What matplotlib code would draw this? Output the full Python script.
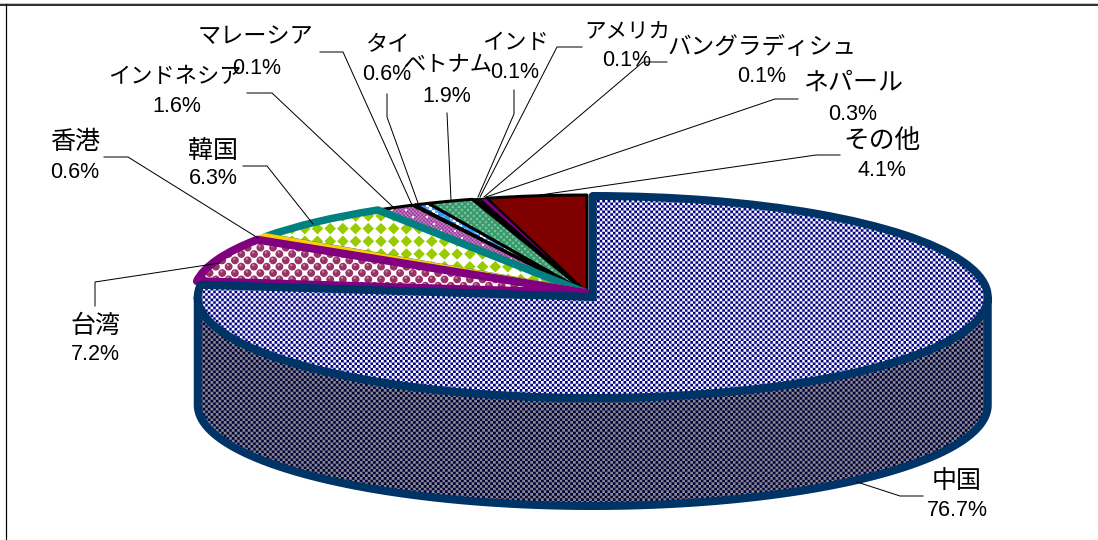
import numpy as np
import matplotlib
matplotlib.use("Agg")
import matplotlib.pyplot as plt
from matplotlib.transforms import Affine2D
from matplotlib.colors import to_rgb
from matplotlib.patches import Polygon

# ---------- data ----------
categories = ["中国", "台湾", "香港", "韓国", "インドネシア", "マレーシア", "タイ",
              "ベトナム", "インド", "アメリカ", "バングラディシュ", "ネパール", "その他"]
shares = [76.7, 7.2, 0.6, 6.3, 1.6, 0.1, 0.6, 1.9, 0.1, 0.1, 0.1, 0.3, 4.1]

# ---------- layout (pixels) ----------
W, H = 1098, 540
CX, CY, RX, RY, DEPTH = 592.75, 297, 395, 101, 108
CX2, CY2, RX2, RY2 = 587, 293, 393, 98
name_pos = [(957, 481), (95, 326), (75, 142), (213, 151), (175, 77), (255, 37), (388, 45),
            (448, 65), (515, 42), (627, 32), (762, 47), (853, 83), (882, 141)]
name_size = [18, 18, 18, 18, 16, 16.7, 16, 16, 16, 15.5, 17, 18, 18.5]
pct_pos = [(957, 511), (95, 355), (75, 172), (213, 179), (177, 107), (257, 68), (387, 75),
           (447, 96), (515, 72), (627, 61), (762, 77), (853, 114), (882, 171)]
leaders = [
    [(857, 482), (900, 496), (923, 496)],
    [(220, 263), (95, 282), (95, 306)],
    [(258, 238), (128, 157), (104, 157)],
    [(313, 224), (267, 166), (243, 166)],
    [(393, 207), (272, 93), (247, 93)],
    [(412, 205), (343, 52), (320, 52)],
    [(418, 203), (387, 117), (387, 94)],
    [(451, 200), (447, 113)],
    [(478, 197), (514, 114), (514, 90)],
    [(480, 197), (557, 47), (582, 47)],
    [(484, 197), (643, 62), (667, 62)],
    [(486, 197), (775, 99), (798, 99)],
    [(540, 195), (816, 155), (840, 155)],
]

SS = 4
yy, xx = np.mgrid[0:H * SS, 0:W * SS]
xx = (xx + 0.5) / SS
yy = (yy + 0.5) / SS


def finish(mask_list):
    img = np.ones((H * SS, W * SS, 3), dtype=np.float32)
    for mask, col in mask_list:
        img[mask] = to_rgb(col)
    return img.reshape(H, SS, W, SS, 3).mean(axis=(1, 3))


def check(p):
    return ((xx // (p / 2) + yy // (p / 2)) % 2).astype(bool)


def stagger(p, q=None):
    q = q or p
    dx1 = (xx + p / 2) % p - p / 2
    dy1 = (yy + q / 2) % q - q / 2
    dx2 = xx % p - p / 2
    dy2 = yy % q - q / 2
    return (dx1, dy1), (dx2, dy2)


def disks(p, r, q=None, off=(0, 0)):
    (a, b), (c, d) = stagger(p, q)
    return ((a - off[0]) ** 2 + (b - off[1]) ** 2 < r ** 2) | ((c - off[0]) ** 2 + (d - off[1]) ** 2 < r ** 2)


def square_diamonds(p, r):
    a = (xx + p / 2) % p - p / 2
    b = (yy + p / 2) % p - p / 2
    return np.abs(a) + np.abs(b) < r


full = np.ones_like(xx, dtype=bool)
textures = {
    "中国": finish([(check(5.33), "#000080")]),
    "台湾": finish([(disks(12.7, 3.9), "#993366"), (disks(12.7, 1.2, off=(-0.8, -1.5)), "#c878a8")]),
    "韓国": finish([(square_diamonds(12.7, 5.8), "#99CC00")]),
    "インドネシア": finish([(full, "#C488C4"), (check(3.6), "#993399"), (disks(14, 1.1), "#FFFFFF")]),
    "タイ": finish([(full, "#3399FF"), (check(12), "#FFFFFF"), (check(6) & check(12), "#66B2FF")]),
    "ベトナム": finish([(full, "#339966"), (disks(6, 1.4), "#7CBFA0")]),
}
wall_tex = finish([(full, "#8A8A8A"), (check(5.33), "#000040")])

solid = {"香港": "#FFCC00", "マレーシア": "#FFFFFF", "インド": "#FFFF00", "アメリカ": "#FFFFFF",
         "バングラディシュ": "#FFFFFF", "ネパール": "#800080", "その他": "#800000"}
edge = {"中国": ("#003366", 8), "台湾": ("#800080", 8), "香港": ("#FFCC00", 7), "韓国": ("#008080", 7.5),
        "インドネシア": ("#000000", 3), "マレーシア": ("#000000", 2), "タイ": ("#000000", 3),
        "ベトナム": ("#000000", 3), "インド": ("#000000", 1.5), "アメリカ": ("#000000", 1.5),
        "バングラディシュ": ("#000000", 1.5), "ネパール": ("#000000", 1.5), "その他": ("#000000", 3)}

PX = 0.72
plt.rcParams["font.family"] = ["Noto Sans CJK JP", "DejaVu Sans"]
fig = plt.figure(figsize=(W / 100, H / 100), dpi=100, facecolor="white")
ax = fig.add_axes([0, 0, 1, 1])

wedges, _ = ax.pie(shares, startangle=90, counterclock=False, frame=False)
base = ax.transData
main_tf = Affine2D().scale(RX, -RY).translate(CX, CY) + base
rest_tf = Affine2D().scale(RX2, -RY2).translate(CX2, CY2) + base

# side wall
t = np.linspace(0, np.pi, 240)
ex, ey = CX + RX * np.cos(t), CY + RY * np.sin(t)
wall_xy = np.r_[np.c_[ex, ey], np.c_[ex, ey + DEPTH][::-1]]
wall = Polygon(wall_xy, closed=True, facecolor="none", edgecolor="#003366", lw=8 * PX,
               joinstyle="round", zorder=3)
ax.add_patch(wall)
wall_im = ax.imshow(wall_tex, extent=(0, W, H, 0), interpolation="nearest", zorder=2, aspect="auto")
wall_im.set_clip_path(wall)

# slices: each one lies on top of the one that follows it
z = 4
for i in range(len(categories) - 1, -1, -1):
    name, w = categories[i], wedges[i]
    w.set_transform(main_tf if i == 0 else rest_tf)
    w.set_clip_on(False)
    col, lw = edge[name]
    w.set_edgecolor(col)
    w.set_linewidth(lw * PX)
    w.set_joinstyle("round")
    if name in textures:
        w.set_facecolor("none")
        w.set_zorder(z + 1)
        im = ax.imshow(textures[name], extent=(0, W, H, 0), interpolation="nearest", zorder=z, aspect="auto")
        im.set_clip_path(w)
    else:
        w.set_facecolor(solid[name])
        w.set_zorder(z + 1)
    z += 2

# leader lines and labels
for path in leaders:
    xs, ys = zip(*path)
    ax.plot(xs, ys, color="#000000", lw=1 * PX, zorder=40, solid_joinstyle="miter")

for name, v, size, (nx, ny), (px, py) in zip(categories, shares, name_size, name_pos, pct_pos):
    ax.text(nx, ny, name, fontsize=size, ha="center", va="center", color="#000000", zorder=50)
    ax.text(px, py, f"{v}%", fontsize=15.5, ha="center", va="center", color="#000000", zorder=50,
            family=["Liberation Sans"])

# frame of the chart area
ax.plot([0, W], [3, 3], color="#C8C8C8", lw=1 * PX, zorder=60)
ax.plot([0, W], [4.5, 4.5], color="#000000", lw=1.6 * PX, zorder=60)
ax.plot([5.5, 5.5], [4, H], color="#000000", lw=1.2 * PX, zorder=60)

ax.set_aspect("auto")
ax.set_xlim(0, W)
ax.set_ylim(H, 0)
ax.axis("off")
fig.savefig("out.png", dpi=100, facecolor="white")
